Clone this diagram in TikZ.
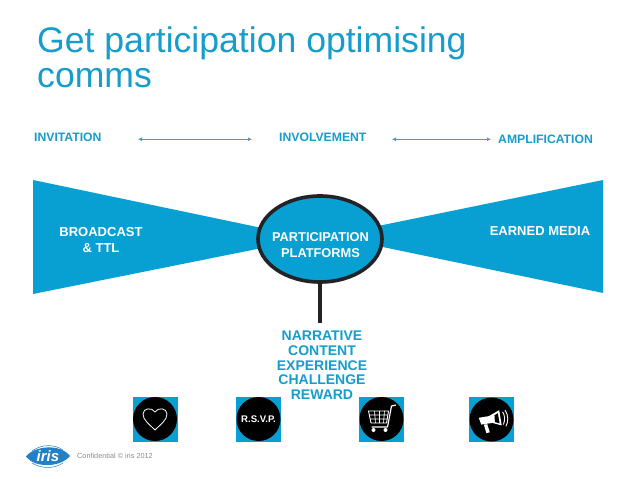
\documentclass[tikz,border=0pt]{standalone}
\usepackage{fontspec}
\setmainfont{Liberation Sans}
\usepackage{xcolor}
\usetikzlibrary{positioning, arrows.meta, shapes.geometric, shadows}
\definecolor{irisblue}{HTML}{169DCB}
\definecolor{bowblue}{HTML}{08A0D2}
\definecolor{linkblue}{HTML}{4F97CC}
\definecolor{logoblue}{HTML}{2480C6}
\definecolor{ringdark}{HTML}{222326}

\begin{document}
\begin{tikzpicture}[x=1pt, y=-1pt, every node/.style={inner sep=0pt},
  headline/.style={font=\fontsize{35.6}{34.5}\selectfont, color=irisblue, align=left},
  stage/.style={font=\fontsize{12.2}{14}\selectfont\bfseries, color=irisblue},
  bowtext/.style={font=\fontsize{13}{16}\selectfont\bfseries, color=white, align=center},
  bandtext/.style={font=\fontsize{14}{14.7}\selectfont\bfseries, color=irisblue, align=center},
  link/.style={{Latex[length=4pt,width=4pt]}-{Latex[length=4pt,width=4pt]}, linkblue, line width=.9pt},
  iconbox/.style={fill=bowblue, minimum size=45pt},
  icondisc/.style={circle, fill=black, minimum size=44pt},
  iconline/.style={white, line width=.8pt, line join=round}]
\useasboundingbox (0,0) rectangle (638,479);
\fill[white] (0,0) rectangle (638,479);

\node[headline, anchor=north west] (title) at (37,26.8) {Get participation optimising\\comms};

\node[stage, anchor=west] (invitation) at (34,137) {INVITATION};
\node[stage, anchor=west] (involvement) at (279,137) {INVOLVEMENT};
\node[stage, anchor=west] (amplification) at (498,139.6) {AMPLIFICATION};
\coordinate (inviteend) at (138,139.2);
\coordinate (involvestart) at (252,139.2);
\coordinate (involveend) at (392,139.3);
\coordinate (ampstart) at (491,139.3);
\draw[link] (inviteend) -- (involvestart);
\draw[link] (involveend) -- (ampstart);

\fill[bowblue] (33,180) -- (262,228) -- (262,248) -- (33,294) -- cycle;
\fill[bowblue] (603,180) -- (378,226) -- (378,246) -- (603,293) -- cycle;

\node[ellipse, draw=ringdark, line width=3.6pt, fill=bowblue, minimum width=124pt, minimum height=86pt,
  drop shadow={opacity=.25, shadow xshift=0pt, shadow yshift=-2pt}] (platforms) at (320,239) {};
\coordinate (stem) at (320,323);
\draw[ringdark, line width=3.6pt] (platforms.south) -- (stem);

\node[bowtext] (broadcast) at (101,240) {BROADCAST\\\& TTL};
\node[bowtext] (earned) at (540,231) {EARNED MEDIA};
\node[bowtext, font=\fontsize{12.8}{16}\selectfont\bfseries] (platformtext) at (320.5,245) {PARTICIPATION\\PLATFORMS};
\node[bandtext, below=8pt of stem, xshift=2pt] (band) {NARRATIVE\\CONTENT\\EXPERIENCE\\CHALLENGE\\REWARD};

\node[iconbox] (heartbox) at (155,419) {};
\node[icondisc] (heartdisc) at (heartbox) {};
\node[iconbox] (rsvpbox) at (258.5,419) {};
\node[icondisc, font=\fontsize{9.6}{10}\selectfont\bfseries, text=white] (rsvpdisc) at (rsvpbox) {R.S.V.P.};
\node[iconbox] (cartbox) at (381.5,419) {};
\node[icondisc] (cartdisc) at (cartbox) {};
\node[iconbox] (hornbox) at (491.5,419.5) {};
\node[icondisc] (horndisc) at (hornbox) {};

\draw[iconline] (155,430) .. controls (149,424) and (143,420) .. (143,414)
  .. controls (143,408) and (152,407) .. (155,412)
  .. controls (158,407) and (167,408) .. (167,414)
  .. controls (167,420) and (161,424) .. (155,430) -- cycle;

\begin{scope}[shift={(381.5,419)}]
\draw[iconline, line width=.9pt] (-13,-8) -- (7,-8) -- (5,4) -- (-10.5,4) -- cycle;
\draw[iconline, line width=.6pt] (-12.5,-4) -- (6.3,-4) (-11.5,0) -- (5.6,0) (-7,-8) -- (-6,4) (-2,-8) -- (-2,4) (3,-8) -- (2,4);
\draw[iconline, line width=1.2pt] (14.5,-14) -- (10,-13) -- (6,8) -- (-10,8);
\fill[white] (-8,11) circle (2pt) (4,11) circle (2pt);
\end{scope}

\begin{scope}[shift={(491.5,419.5)}, scale=.85]
\fill[white] (-15,-2) -- (-3,-4) -- (9,-11) -- (12,7) -- (1,4) -- (-12,6) -- cycle;
\fill[white] (-9,6) -- (-5,5.5) -- (-2,15) -- (-6,16) -- cycle;
\fill[black] (7.5,-7.5) -- (9.5,4.5) -- (4,3) -- (3.5,-5) -- cycle;
\draw[white, line width=.9pt] (13,-9) .. controls (16,-5) and (16,1) .. (14,6);
\draw[white, line width=.9pt] (16,-11) .. controls (20,-5) and (20,2) .. (17,8);
\end{scope}

\fill[logoblue] (26,456.5) .. controls (34,446) and (60,443) .. (70,456)
  .. controls (60,468) and (34,468) .. (26,456.5) -- cycle;
\draw[logoblue, line width=.5pt] (32,451) .. controls (42,444) and (54,444) .. (63,450);
\draw[logoblue, line width=.5pt] (32,463) .. controls (42,469) and (54,469) .. (63,463);
\node[font=\fontsize{15}{15}\selectfont\bfseries\itshape, text=white] (logo) at (48,456) {iris};
\node[font=\fontsize{7.3}{8}\selectfont, text=black!45, anchor=west] (confidential) at (77,456) {Confidential © iris 2012};
\end{tikzpicture}
\end{document}
